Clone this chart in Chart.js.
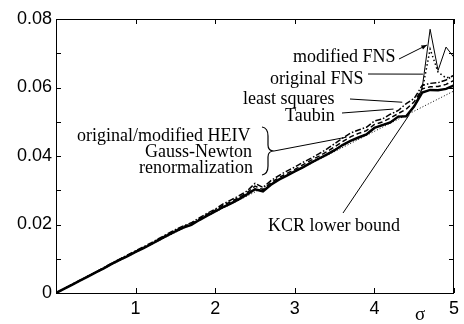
<!DOCTYPE html>
<html>
<head>
<meta charset="utf-8">
<script src="https://cdn.jsdelivr.net/npm/chart.js@4.4.1/dist/chart.umd.min.js"></script>
<style>
  body { margin: 0; background: #fff; }
  canvas { display: block; }
</style>
</head>
<body>
<canvas id="chart" width="464" height="324"></canvas>
<script>
// sigma values (x axis)
const sigma = [0, 0.1, 0.2, 0.3, 0.4, 0.5, 0.6, 0.7, 0.8, 0.9,
    1.0, 1.1, 1.2, 1.3, 1.4, 1.5, 1.6, 1.7, 1.8, 1.9,
    2.0, 2.1, 2.2, 2.3, 2.4, 2.5, 2.6, 2.7, 2.8, 2.9,
    3.0, 3.1, 3.2, 3.3, 3.4, 3.5, 3.6, 3.7, 3.8, 3.9,
    4.0, 4.1, 4.2, 4.3, 4.4, 4.5, 4.6, 4.7, 4.8, 4.9, 5.0];

const renormalization = [0, 0.0012, 0.0024, 0.0036, 0.0048, 0.0060, 0.0072, 0.0085, 0.0097, 0.0108,
    0.0120, 0.0131, 0.0143, 0.0156, 0.0168, 0.0180, 0.0191, 0.0199, 0.0213, 0.0226,
    0.0238, 0.0251, 0.0262, 0.0274, 0.0288, 0.0303, 0.0297, 0.0316, 0.0331, 0.0343,
    0.0355, 0.0367, 0.0380, 0.0392, 0.0404, 0.0417, 0.0432, 0.0444, 0.0454, 0.0463,
    0.0482, 0.0490, 0.0498, 0.0515, 0.0516, 0.0545, 0.0585, 0.0593, 0.0592, 0.0596, 0.0606];

const taubin = [0, 0.0012, 0.0024, 0.0037, 0.0049, 0.0061, 0.0073, 0.0086, 0.0098, 0.0110,
    0.0122, 0.0133, 0.0145, 0.0158, 0.0171, 0.0183, 0.0194, 0.0202, 0.0216, 0.0230,
    0.0242, 0.0256, 0.0267, 0.0279, 0.0293, 0.0312, 0.0302, 0.0322, 0.0337, 0.0349,
    0.0361, 0.0374, 0.0387, 0.0399, 0.0412, 0.0427, 0.0442, 0.0456, 0.0466, 0.0474,
    0.0492, 0.0499, 0.0511, 0.0524, 0.0537, 0.0558, 0.0596, 0.0602, 0.0603, 0.0609, 0.0621];

const leastSquares = [0, 0.0012, 0.0025, 0.0037, 0.0049, 0.0061, 0.0074, 0.0087, 0.0099, 0.0111,
    0.0123, 0.0135, 0.0147, 0.0160, 0.0173, 0.0185, 0.0196, 0.0205, 0.0219, 0.0233,
    0.0245, 0.0260, 0.0272, 0.0284, 0.0298, 0.0320, 0.0308, 0.0328, 0.0343, 0.0356,
    0.0368, 0.0381, 0.0393, 0.0406, 0.0420, 0.0436, 0.0452, 0.0467, 0.0476, 0.0484,
    0.0502, 0.0508, 0.0522, 0.0533, 0.0553, 0.0568, 0.0606, 0.0612, 0.0614, 0.0622, 0.0636];

const originalFNS = [0, 0.0012, 0.0024, 0.0036, 0.0048, 0.0060, 0.0072, 0.0085, 0.0097, 0.0108,
    0.0120, 0.0131, 0.0143, 0.0156, 0.0168, 0.0180, 0.0191, 0.0199, 0.0213, 0.0226,
    0.0238, 0.0251, 0.0262, 0.0274, 0.0288, 0.0303, 0.0297, 0.0316, 0.0331, 0.0343,
    0.0355, 0.0367, 0.0380, 0.0392, 0.0404, 0.0417, 0.0432, 0.0444, 0.0454, 0.0463,
    0.0482, 0.0490, 0.0498, 0.0515, 0.0516, 0.0545, 0.0590, 0.0712, 0.0645, 0.0628, 0.0634];

const modifiedFNS = [0, 0.0012, 0.0024, 0.0036, 0.0048, 0.0060, 0.0072, 0.0085, 0.0097, 0.0108,
    0.0120, 0.0131, 0.0143, 0.0156, 0.0168, 0.0180, 0.0191, 0.0199, 0.0213, 0.0226,
    0.0238, 0.0251, 0.0262, 0.0274, 0.0288, 0.0303, 0.0297, 0.0316, 0.0331, 0.0343,
    0.0355, 0.0367, 0.0380, 0.0392, 0.0404, 0.0417, 0.0432, 0.0444, 0.0454, 0.0463,
    0.0482, 0.0490, 0.0498, 0.0515, 0.0516, 0.0545, 0.0598, 0.0770, 0.0650, 0.0718, 0.0688];

// KCR lower bound is a straight line
const kcrSigma = [0, 5];
const kcrBound = [0, 0.059];

const xTicks = [1, 2, 3, 4, 5];
const yLabelled = [0, 0.02, 0.04, 0.06, 0.08];

const toPoints = (xs, ys) => xs.map((x, i) => ({ x: x, y: ys[i] }));

// annotation labels: text in pixels, leader end in data coords
const serif = '18px "Liberation Serif", "DejaVu Serif", serif';
const labels = [
    { text: 'modified FNS', x: 293, y: 62, from: [399, 59], to: [4.66, 0.0724], arrow: true },
    { text: 'original FNS', x: 270, y: 84, from: [368, 74], to: [4.61, 0.0639] },
    { text: 'least squares', x: 243, y: 104, from: [350, 99], to: [4.35, 0.0557] },
    { text: 'Taubin', x: 285, y: 121, from: [342, 113], to: [4.24, 0.0537] },
    { text: 'original/modified HEIV', x: 77, y: 141 },
    { text: 'Gauss-Newton', x: 145, y: 157 },
    { text: 'renormalization', x: 139, y: 173, from: [274, 151], to: [3.65, 0.0455] },
    { text: 'KCR lower bound', x: 268, y: 231, from: [343, 213], to: [4.44, 0.0521] }
];

const decorations = {
    id: 'decorations',
    afterDatasetsDraw(chart) {
        const ctx = chart.ctx;
        const a = chart.chartArea;
        const xs = chart.scales.x;
        const ys = chart.scales.y;
        ctx.save();
        ctx.strokeStyle = '#000';
        ctx.lineWidth = 1;
        ctx.strokeRect(a.left + 0.5, a.top + 0.5, a.right - a.left - 1, a.bottom - a.top);

        // inward ticks
        ctx.beginPath();
        ys.ticks.forEach(t => {
            const py = Math.round(ys.getPixelForValue(t.value)) + 0.5;
            ctx.moveTo(a.left, py); ctx.lineTo(a.left + 5, py);
            ctx.moveTo(a.right, py); ctx.lineTo(a.right - 5, py);
        });
        xTicks.forEach(v => {
            const px = Math.round(xs.getPixelForValue(v)) + 0.5;
            ctx.moveTo(px, a.bottom); ctx.lineTo(px, a.bottom - 5);
            ctx.moveTo(px, a.top); ctx.lineTo(px, a.top + 5);
        });
        ctx.stroke();

        // labels and leaders
        ctx.fillStyle = '#000';
        ctx.font = serif;
        ctx.textBaseline = 'alphabetic';
        ctx.textAlign = 'left';
        labels.forEach(l => {
            ctx.fillText(l.text, l.x, l.y);
            if (l.from) {
                const ex = xs.getPixelForValue(l.to[0]);
                const ey = ys.getPixelForValue(l.to[1]);
                ctx.beginPath();
                ctx.lineWidth = 1;
                ctx.moveTo(l.from[0], l.from[1]);
                ctx.lineTo(ex, ey);
                ctx.stroke();
                if (l.arrow) {
                    const ang = Math.atan2(ey - l.from[1], ex - l.from[0]);
                    ctx.beginPath();
                    ctx.moveTo(ex, ey);
                    ctx.lineTo(ex - 6 * Math.cos(ang - 0.4), ey - 6 * Math.sin(ang - 0.4));
                    ctx.lineTo(ex - 6 * Math.cos(ang + 0.4), ey - 6 * Math.sin(ang + 0.4));
                    ctx.closePath();
                    ctx.fill();
                }
            }
        });

        // brace for the HEIV / Gauss-Newton / renormalization group
        ctx.beginPath();
        ctx.lineWidth = 1.2;
        ctx.moveTo(262, 127);
        ctx.quadraticCurveTo(268, 128, 268, 136);
        ctx.lineTo(268, 145);
        ctx.quadraticCurveTo(268, 151, 274, 151);
        ctx.quadraticCurveTo(268, 151, 268, 157);
        ctx.lineTo(268, 166);
        ctx.quadraticCurveTo(268, 174, 262, 175);
        ctx.stroke();

        // sigma axis label
        ctx.font = '19px "Liberation Serif", serif';
        ctx.textAlign = 'center';
        ctx.fillText('σ', 420, 320);
        ctx.restore();
    }
};

const line = (label, xs, ys, width, dash) => ({
    label: label,
    data: toPoints(xs, ys),
    borderColor: '#000',
    borderWidth: width,
    borderDash: dash,
    pointRadius: 0,
    tension: 0,
    fill: false
});

new Chart(document.getElementById('chart'), {
    type: 'line',
    data: {
        datasets: [
            line('modified FNS', sigma, modifiedFNS, 1, []),
            line('original FNS', sigma, originalFNS, 1.5, [1.5, 2.5]),
            line('KCR lower bound', kcrSigma, kcrBound, 1, [1, 2]),
            line('least squares', sigma, leastSquares, 1.5, [6, 2, 1.5, 2]),
            line('Taubin', sigma, taubin, 1.5, [5, 3]),
            line('renormalization', sigma, renormalization, 2.5, [])
        ]
    },
    options: {
        responsive: false,
        animation: false,
        devicePixelRatio: 1,
        layout: { padding: { top: 19, right: 9, left: 0, bottom: 0 } },
        plugins: { legend: { display: false }, tooltip: { enabled: false } },
        scales: {
            x: {
                type: 'linear',
                min: 0,
                max: 5,
                afterFit: s => { s.height = 31; },
                grid: { display: false, drawTicks: false },
                border: { display: false },
                ticks: {
                    stepSize: 1,
                    padding: 5,
                    maxRotation: 0,
                    color: '#000',
                    font: { family: '"Liberation Sans", Arial, sans-serif', size: 18 },
                    callback: v => (xTicks.includes(v) ? String(v) : '')
                }
            },
            y: {
                type: 'linear',
                min: 0,
                max: 0.08,
                afterFit: s => { s.width = 56; },
                grid: { display: false, drawTicks: false },
                border: { display: false },
                ticks: {
                    stepSize: 0.01,
                    padding: 4,
                    color: '#000',
                    font: { family: '"Liberation Sans", Arial, sans-serif', size: 18 },
                    callback: v => {
                        const r = Math.round(v * 100) / 100;
                        if (!yLabelled.some(l => Math.abs(l - r) < 1e-9)) return '';
                        return r === 0 ? '0' : r.toFixed(2);
                    }
                }
            }
        }
    },
    plugins: [decorations]
});
</script>
</body>
</html>
